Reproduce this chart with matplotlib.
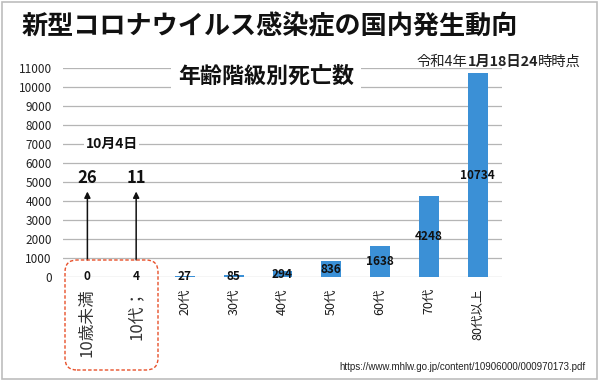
import matplotlib
matplotlib.use("Agg")
import matplotlib.pyplot as plt
from matplotlib.patches import FancyBboxPatch, Rectangle

plt.rcParams['font.family'] = ['Noto Sans CJK JP', 'DejaVu Sans']

# data
age_groups = ['10歳未満', '10代；', '20代', '30代', '40代', '50代', '60代', '70代', '80代以上']
deaths = [0, 4, 27, 85, 294, 836, 1638, 4248, 10734]
oct4_labels = ['26', '11']          # 10月4日 counts for the first two groups
y_ticks = list(range(0, 12000, 1000))

W, H = 600, 381
fig = plt.figure(figsize=(6, 3.81), dpi=100)

def fx(px):
    return px / W

def fy(py):
    return 1 - py / H

ax = fig.add_axes([fx(63), fy(277), fx(502) - fx(63), fy(68) - fy(277)])
ax.bar(range(len(deaths)), deaths, width=0.41, color='#3b90d6', zorder=3)
ax.set_xlim(-0.5, len(deaths) - 0.5)
ax.set_ylim(0, 11000)
ax.set_yticks(y_ticks)
ax.set_yticklabels([str(v) for v in y_ticks], fontsize=8.5, color='#222222')
ax.yaxis.grid(True, color='#b5b5b5', lw=0.9, zorder=0)
ax.set_axisbelow(True)
for s in ax.spines.values():
    s.set_visible(False)
ax.tick_params(length=0)
ax.tick_params(axis='y', pad=8)
ax.tick_params(axis='x', pad=8)
ax.set_xticks(range(len(deaths)))
ax.set_xticklabels(age_groups, rotation=90, va='top', ha='center')
for i, lab in enumerate(ax.get_xticklabels()):
    if i < 2:
        lab.set_fontsize(12)
        lab.set_color('#333333')
    else:
        lab.set_fontsize(9)
        lab.set_color('#1a1a1a')

# value labels at bar centre
for i, v in enumerate(deaths):
    ax.text(i, v / 2, str(v), ha='center', va='center', fontsize=8.5,
            fontweight='bold', color='#111111', zorder=4)

# arrows and 10/4 numbers
for i, t in enumerate(oct4_labels):
    ax.annotate('', xy=(i, 4500), xytext=(i, 900),
                arrowprops=dict(arrowstyle='-|>', color='#111111', lw=1.1,
                                mutation_scale=9, shrinkA=0, shrinkB=0))
    ax.text(i, 5200, t, ha='center', va='center', fontsize=12,
            fontweight='bold', color='#111111')
ax.text(0.5, 7000, '10月4日', ha='center', va='center', fontsize=10,
        fontweight='bold', color='#111111',
        bbox=dict(facecolor='white', edgecolor='none', pad=1))

# dashed rounded box around the first two groups
box = FancyBboxPatch((0.65, 0.11), 0.93, 1.10,
                     boxstyle='round,pad=0,rounding_size=0.12',
                     transform=fig.dpi_scale_trans, fill=False,
                     ec='#e8502a', lw=1.0, ls=(0, (2.5, 1.5)))
fig.patches.append(box)

# titles
fig.text(fx(22), fy(27), '新型コロナウイルス感染症の国内発生動向', fontsize=18.8,
         fontweight='bold', ha='left', va='center', color='#111111')
fig.text(fx(266), fy(76), '年齢階級別死亡数', fontsize=15.8, fontweight='bold',
         ha='center', va='center', color='#111111',
         bbox=dict(facecolor='white', edgecolor='none', pad=5))

# date stamp with mixed weights, placed piece by piece
pieces = [('令和4年', 'normal'), ('1月18日24', 'bold'), ('時時点', 'normal')]
renderer = fig.canvas.get_renderer()
x = fx(417)
for txt, wgt in pieces:
    t = fig.text(x, fy(62), txt, fontsize=10.3, fontweight=wgt, ha='left',
                 va='center', color='#222222')
    bb = t.get_window_extent(renderer=renderer)
    x += bb.width / W

fig.text(fx(585), fy(367), 'https://www.mhlw.go.jp/content/10906000/000970173.pdf',
         fontsize=7, ha='right', va='center', color='#222222',
         family=['Liberation Sans', 'DejaVu Sans'])

# light frame
fig.patches.append(Rectangle((0.003, 0.004), 0.992, 0.992, transform=fig.transFigure,
                             fill=False, ec='#bdbdbd', lw=1.2))

fig.savefig('out.png', dpi=100)
